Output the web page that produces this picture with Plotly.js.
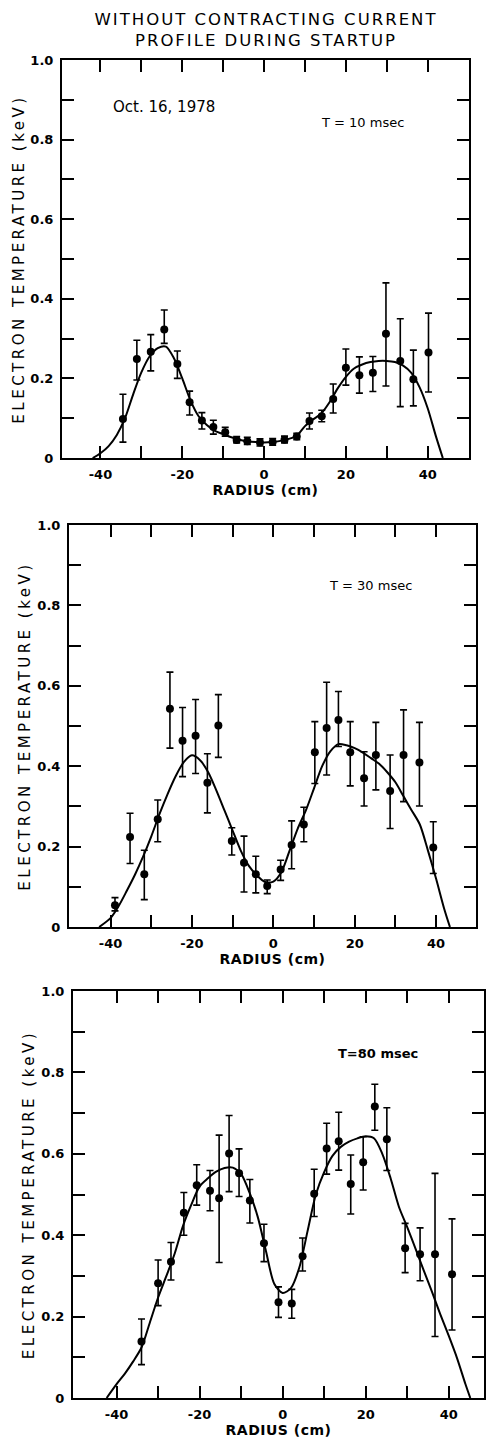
<!DOCTYPE html>
<html>
<head>
<meta charset="utf-8">
<script src="https://cdn.plot.ly/plotly-3.0.1.min.js"></script>
<style>html,body{margin:0;padding:0;background:#fff;}#chart{width:486px;height:1441px;}</style>
</head>
<body>
<div id="chart"></div>
<script>
// ---------- T = 10 msec ----------
var r10  = [-34.5, -31.1, -27.7, -24.4, -21.2, -18.2, -15.2, -12.4, -9.5, -6.7, -4.1, -1.0, 2.1, 5.0, 8.0, 11.1, 14.1, 16.9, 20.0, 23.3, 26.6, 29.8, 33.3, 36.5, 40.2];
var te10 = [0.098, 0.249, 0.267, 0.323, 0.236, 0.140, 0.094, 0.078, 0.065, 0.045, 0.042, 0.039, 0.040, 0.046, 0.054, 0.093, 0.105, 0.148, 0.227, 0.208, 0.214, 0.312, 0.244, 0.198, 0.265];
var hi10 = [0.160, 0.296, 0.310, 0.372, 0.269, 0.168, 0.114, 0.095, 0.077, 0.054, 0.052, 0.048, 0.049, 0.055, 0.062, 0.113, 0.120, 0.186, 0.274, 0.254, 0.255, 0.440, 0.350, 0.271, 0.364];
var lo10 = [0.040, 0.196, 0.219, 0.288, 0.200, 0.108, 0.073, 0.060, 0.055, 0.038, 0.034, 0.030, 0.032, 0.038, 0.046, 0.073, 0.091, 0.113, 0.183, 0.163, 0.167, 0.181, 0.129, 0.131, 0.166];
var fitR10 = [-41.9, -40, -38, -36, -34, -32, -30, -28, -26, -24, -22, -20, -18, -16, -14, -12, -10, -8, -6, -4, -2, 0, 2, 4, 6, 8, 10, 12, 14, 16, 18, 20, 22, 24, 26, 28, 30, 32, 34, 36, 38, 40, 42, 43.7];
var fitT10 = [0, 0.012, 0.03, 0.058, 0.1, 0.16, 0.215, 0.255, 0.276, 0.28, 0.25, 0.2, 0.145, 0.105, 0.083, 0.068, 0.06, 0.052, 0.046, 0.042, 0.04, 0.039, 0.04, 0.043, 0.048, 0.056, 0.08, 0.097, 0.112, 0.14, 0.175, 0.204, 0.225, 0.235, 0.241, 0.244, 0.244, 0.241, 0.232, 0.214, 0.178, 0.125, 0.055, 0];

// ---------- T = 30 msec ----------
var r30  = [-38.9, -35.2, -31.7, -28.4, -25.4, -22.3, -19.1, -16.2, -13.5, -10.2, -7.2, -4.3, -1.5, 1.8, 4.5, 7.5, 10.2, 13.1, 16.0, 18.9, 22.3, 25.2, 28.7, 32.0, 35.9, 39.3];
var te30 = [0.054, 0.224, 0.131, 0.268, 0.543, 0.463, 0.476, 0.359, 0.501, 0.214, 0.160, 0.131, 0.102, 0.143, 0.204, 0.255, 0.435, 0.495, 0.515, 0.435, 0.370, 0.428, 0.338, 0.428, 0.409, 0.198];
var hi30 = [0.073, 0.283, 0.191, 0.316, 0.634, 0.546, 0.566, 0.431, 0.578, 0.247, 0.226, 0.176, 0.117, 0.166, 0.264, 0.298, 0.511, 0.609, 0.586, 0.511, 0.436, 0.509, 0.428, 0.540, 0.509, 0.262];
var lo30 = [0.040, 0.158, 0.068, 0.212, 0.445, 0.374, 0.382, 0.284, 0.422, 0.179, 0.087, 0.085, 0.083, 0.116, 0.145, 0.212, 0.357, 0.378, 0.449, 0.351, 0.301, 0.341, 0.245, 0.312, 0.301, 0.133];
var fitR30 = [-42.8, -40, -38, -36, -34, -32, -30, -28, -26, -24, -22, -20, -18, -16, -14, -12, -10, -8, -6, -4, -2, 0, 2, 4, 6, 8, 10, 12, 14, 16, 18, 20, 22, 24, 26, 28, 30, 32, 34, 36, 38, 40, 42, 43.4];
var fitT30 = [0, 0.022, 0.052, 0.09, 0.13, 0.175, 0.225, 0.28, 0.33, 0.375, 0.41, 0.427, 0.415, 0.385, 0.34, 0.29, 0.24, 0.19, 0.152, 0.128, 0.112, 0.113, 0.137, 0.19, 0.245, 0.29, 0.345, 0.4, 0.437, 0.455, 0.452, 0.445, 0.434, 0.42, 0.406, 0.385, 0.36, 0.325, 0.29, 0.255, 0.19, 0.12, 0.045, 0];

// ---------- T = 80 msec ----------
var r80  = [-34.0, -30.0, -26.9, -23.8, -20.7, -17.5, -15.3, -12.9, -10.5, -7.9, -4.5, -1.0, 2.2, 4.8, 7.6, 10.6, 13.5, 16.4, 19.4, 22.2, 25.1, 29.5, 33.1, 36.7, 40.8];
var te80 = [0.139, 0.282, 0.335, 0.455, 0.523, 0.509, 0.491, 0.601, 0.552, 0.485, 0.380, 0.235, 0.232, 0.348, 0.502, 0.613, 0.631, 0.526, 0.579, 0.716, 0.636, 0.368, 0.353, 0.353, 0.304];
var hi80 = [0.194, 0.339, 0.382, 0.505, 0.573, 0.559, 0.646, 0.694, 0.612, 0.537, 0.427, 0.273, 0.267, 0.393, 0.562, 0.675, 0.702, 0.597, 0.642, 0.771, 0.713, 0.429, 0.418, 0.552, 0.440];
var lo80 = [0.082, 0.227, 0.290, 0.400, 0.474, 0.460, 0.333, 0.507, 0.495, 0.430, 0.335, 0.198, 0.196, 0.312, 0.446, 0.550, 0.560, 0.452, 0.511, 0.658, 0.559, 0.308, 0.288, 0.151, 0.167];
var fitR80 = [-42.4, -40, -38, -36, -34, -32, -30, -28, -26, -24, -22, -20, -18, -16, -14, -12, -10, -8, -6, -4, -2, 0, 2, 4, 6, 8, 10, 12, 14, 16, 18, 20, 22, 24, 26, 28, 30, 32, 34, 36, 38, 40, 42, 44, 45.2];
var fitT80 = [0, 0.034, 0.06, 0.09, 0.124, 0.185, 0.247, 0.3, 0.355, 0.423, 0.475, 0.52, 0.54, 0.556, 0.565, 0.566, 0.55, 0.505, 0.445, 0.36, 0.28, 0.258, 0.27, 0.32, 0.41, 0.5, 0.555, 0.595, 0.617, 0.63, 0.638, 0.643, 0.638, 0.6, 0.54, 0.47, 0.42, 0.367, 0.313, 0.26, 0.205, 0.153, 0.098, 0.035, 0];

// ---------- text ----------
var titleLines = ["WITHOUT CONTRACTING CURRENT", "PROFILE DURING STARTUP"];
var xTitle = "RADIUS (cm)";
var yTitle = "ELECTRON TEMPERATURE (keV)";
var panelLabels = ["T = 10 msec", "T = 30 msec", "T=80 msec"];
var dateLabel = "Oct. 16, 1978";
var xTickVals = [-40, -30, -20, -10, 0, 10, 20, 30, 40];
var xTickText = ["-40", "", "-20", "", "0", "", "20", "", "40"];
var yTickVals = [0, 0.1, 0.2, 0.3, 0.4, 0.5, 0.6, 0.7, 0.8, 0.9, 1.0];
var yTickText = ["0", "", "0.2", "", "0.4", "", "0.6", "", "0.8", "", "1.0"];

var FONT = "DejaVu Sans, Liberation Sans, sans-serif";

function points(r, t, hi, lo, xa, ya) {
  return {
    type: "scatter", mode: "markers", x: r, y: t, xaxis: xa, yaxis: ya,
    marker: {color: "#000", size: 8},
    error_y: {
      type: "data", symmetric: false,
      array: hi.map(function (h, i) { return h - t[i]; }),
      arrayminus: lo.map(function (l, i) { return t[i] - l; }),
      color: "#000", thickness: 1.6, width: 3.5
    },
    showlegend: false, hoverinfo: "skip"
  };
}
function fit(r, t, xa, ya) {
  return {
    type: "scatter", mode: "lines", x: r, y: t, xaxis: xa, yaxis: ya,
    line: {color: "#000", width: 2, shape: "spline", smoothing: 0.8},
    showlegend: false, hoverinfo: "skip"
  };
}

var data = [
  fit(fitR10, fitT10, "x", "y"), points(r10, te10, hi10, lo10, "x", "y"),
  fit(fitR30, fitT30, "x2", "y2"), points(r30, te30, hi30, lo30, "x2", "y2"),
  fit(fitR80, fitT80, "x3", "y3"), points(r80, te80, hi80, lo80, "x3", "y3")
];

function sp(s, ls) { return '<span style="letter-spacing:' + ls + 'px">' + s + '</span>'; }

function xax(domain, range, anchor) {
  return {
    domain: domain, range: range, anchor: anchor,
    tickmode: "array", tickvals: xTickVals, ticktext: xTickText,
    ticks: "inside", ticklen: 12, tickwidth: 2, tickcolor: "#000",
    showline: true, linewidth: 2, linecolor: "#000", mirror: "ticks",
    showgrid: false, zeroline: false, ticklabelstandoff: 3,
    tickfont: {family: FONT, size: 13, color: "#000", weight: "bold"},
    title: {text: sp(xTitle, 0.5), standoff: 5, font: {family: FONT, size: 14, color: "#000", weight: "bold"}}
  };
}
function yax(domain, anchor, standoff) {
  return {
    domain: domain, range: [0, 1], anchor: anchor,
    tickmode: "array", tickvals: yTickVals, ticktext: yTickText,
    ticks: "inside", ticklen: 12, tickwidth: 2, tickcolor: "#000",
    showline: true, linewidth: 2, linecolor: "#000", mirror: "ticks",
    showgrid: false, zeroline: false, ticklabelstandoff: 4,
    tickfont: {family: FONT, size: 13, color: "#000", weight: "bold"},
    title: {text: sp(yTitle, 3.5), standoff: standoff, font: {family: FONT, size: 15, color: "#000"}}
  };
}

var H = 1441, W = 486;
var layout = {
  width: W, height: H,
  margin: {l: 0, r: 0, t: 0, b: 0},
  paper_bgcolor: "#fff", plot_bgcolor: "#fff",
  title: {
    text: sp(titleLines[0], 2) + "<br>" + sp(titleLines[1], 2),
    x: 266 / W, xanchor: "center", xref: "container",
    y: 1 - 25 / H, yanchor: "top", yref: "container",
    font: {family: FONT, size: 16.5, color: "#000"}
  },
  xaxis:  xax([62 / W, 469 / W], [-49.4, 50.1], "y"),
  yaxis:  yax([1 - 458 / H, 1 - 60 / H], "x", 2),
  xaxis2: xax([69 / W, 476 / W], [-50.2, 49.8], "y2"),
  yaxis2: yax([1 - 927 / H, 1 - 525 / H], "x2", 3),
  xaxis3: xax([73 / W, 484 / W], [-50.5, 48.5], "y3"),
  yaxis3: yax([1 - 1398 / H, 1 - 991 / H], "x3", 3),
  annotations: [
    {text: dateLabel, xref: "x", yref: "y", x: -24.4, y: 0.882, showarrow: false,
     font: {family: FONT, size: 15, color: "#000"}},
    {text: panelLabels[0], xref: "x", yref: "y", x: 24.0, y: 0.844, showarrow: false,
     font: {family: FONT, size: 13, color: "#000"}},
    {text: panelLabels[1], xref: "x2", yref: "y2", x: 23.8, y: 0.85, showarrow: false,
     font: {family: FONT, size: 13, color: "#000"}},
    {text: panelLabels[2], xref: "x3", yref: "y3", x: 23.0, y: 0.847, showarrow: false,
     font: {family: FONT, size: 13, color: "#000", weight: "bold"}}
  ]
};

Plotly.newPlot("chart", data, layout, {displayModeBar: false, staticPlot: true});
</script>
</body>
</html>
